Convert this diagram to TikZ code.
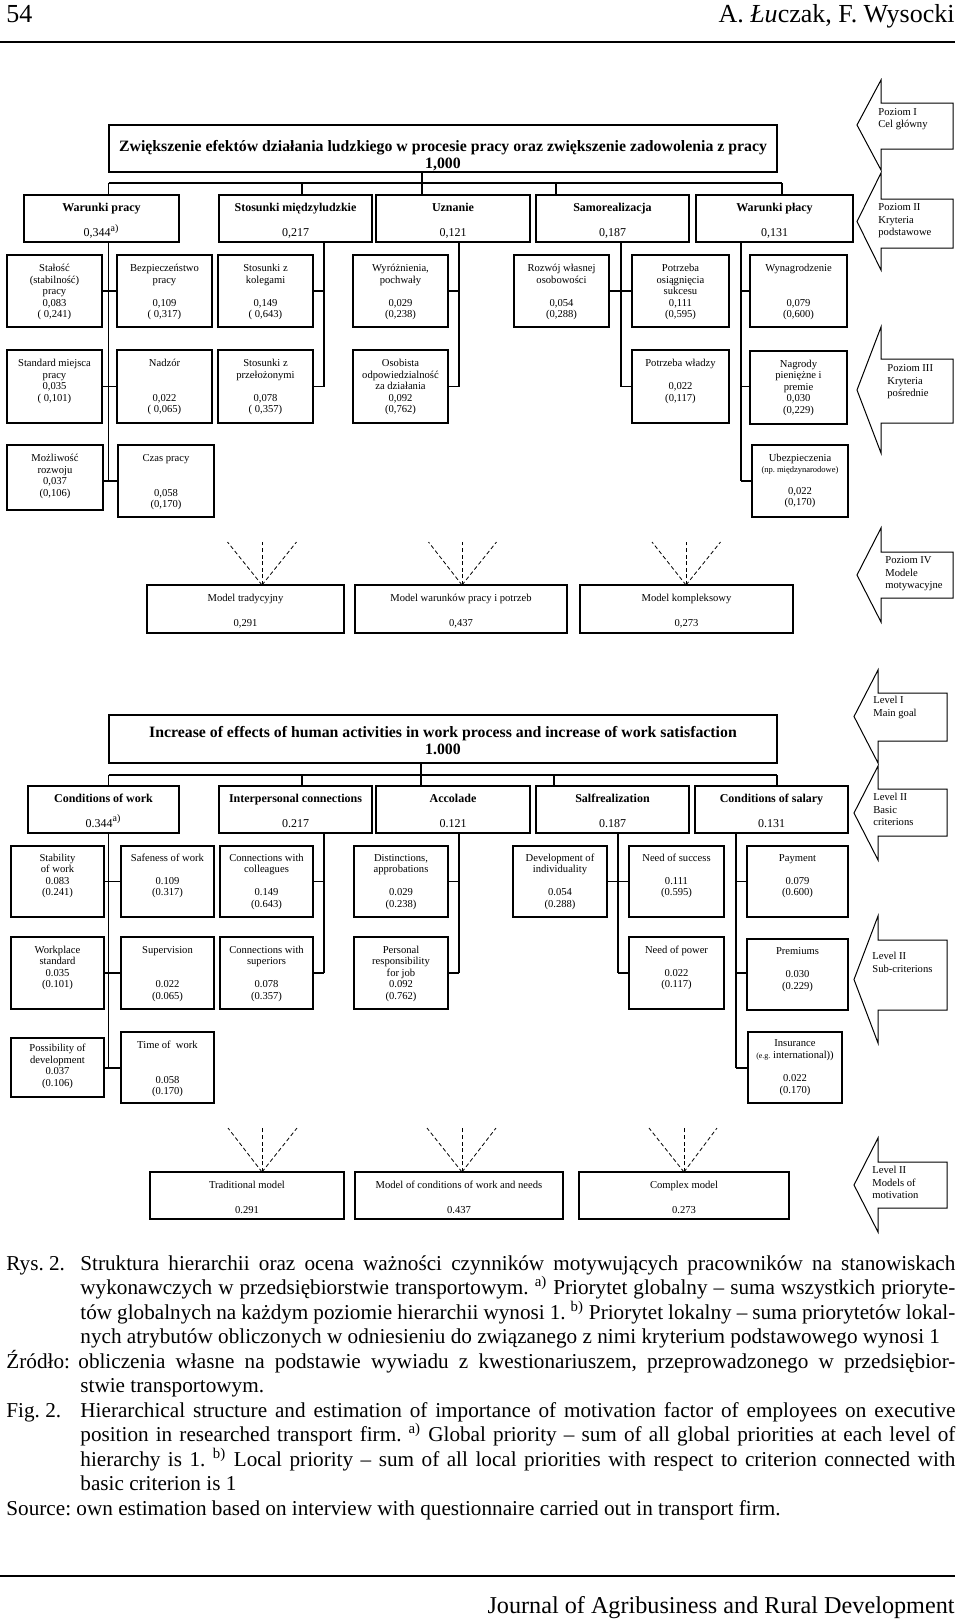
\documentclass[tikz,border=0pt]{standalone}
\usepackage{fontspec}
\setmainfont{Liberation Serif}
\frenchspacing
\newlength\ux
\setlength\ux{0.5pt}
\newcommand\fsm{\fontsize{5.3}{5.8}\selectfont}
\newcommand\fsl{\fontsize{6}{7}\selectfont}
\newcommand\fst{\fontsize{7.9}{8.5}\selectfont\bfseries}
\newcommand\fsa{\fontsize{5.3}{6.25}\selectfont}
\newcommand\fsc{\fontsize{10.6}{12.25}\selectfont}
\newcommand\fsh{\fontsize{13}{15}\selectfont}
\newcommand\supsm[1]{\smash{\textsuperscript{#1}}}
\newcommand\mybox[8]{%
\node[box,font=#2] (#1) at ({(#3+#4)/2},{(#5+#6)/2}) {\parbox[c][\dimexpr#6\ux-#5\ux\relax][t]{\dimexpr#4\ux-#3\ux\relax}{\centering\vspace*{\dimexpr#7\ux-#5\ux-\ht\strutbox\relax}\strut#8\par}};}
\newcommand\blockarrow[7]{% headx tipx right headtop headbot shafttop shaftbot
\draw[blk] (#3,#6) -- (#1,#6) -- (#1,#4) -- (#2,{(#4+#5)/2}) -- (#1,#5) -- (#1,#7) -- (#3,#7) -- cycle;}
\tikzset{
 box/.style={draw, line width=0.7pt, inner sep=0pt, outer sep=0pt},
 conn/.style={line width=0.6pt},
 fan/.style={line width=0.4pt, dash pattern=on 2pt off 1.3pt},
 blk/.style={line width=0.5pt, line join=miter},
 albl/.style={anchor=base west, inner sep=0pt, font=\fsa},
 capl/.style={anchor=base west, inner sep=0pt, font=\fsc},
}
\begin{document}
\begin{tikzpicture}[x=0.5pt,y=-0.5pt]
\fill[white] (0,0) rectangle (960,1622);
\useasboundingbox (0,0) rectangle (960,1622);

% header
\node[anchor=base west, inner sep=0pt, font=\fsh] (pgnum) at (6,23) {54};
\node[anchor=base east, inner sep=0pt, font=\fsh] (authors) at (955,23) {A. \textit{Łu}czak, F. Wysocki};
\draw[line width=1pt] (0,42) -- (955,42);

% ================= Polish diagram =================
\mybox{plmain}{\fst}{109}{777}{125}{172}{151}{\mbox{Zwiększenie efektów działania ludzkiego w procesie pracy oraz zwiększenie zadowolenia z pracy}\\1,000}

\mybox{wpr}{\fsl}{24}{179}{195}{242}{211.5}{\textbf{Warunki pracy}\\[5.5pt]0,344\supsm{a)}}
\mybox{stm}{\fsl}{219}{372}{195}{242}{211.5}{\textbf{Stosunki międzyludzkie}\\[5.5pt]0,217}
\mybox{uzn}{\fsl}{376}{530}{195}{242}{211.5}{\textbf{Uznanie}\\[5.5pt]0,121}
\mybox{sam}{\fsl}{536}{689}{195}{242}{211.5}{\textbf{Samorealizacja}\\[5.5pt]0,187}
\mybox{wpl}{\fsl}{696}{853}{195}{242}{211.5}{\textbf{Warunki płacy}\\[5.5pt]0,131}

\mybox{stal}{\fsm}{7}{102}{255}{327}{271.5}{Stałość\\(stabilność)\\pracy\\0,083\\( 0,241)}
\mybox{bezp}{\fsm}{117}{212}{255}{327}{271.5}{Bezpieczeństwo\\pracy\\[5.8pt]0,109\\( 0,317)}
\mybox{kol}{\fsm}{218}{313}{255}{327}{271.5}{Stosunki z\\kolegami\\[5.8pt]0,149\\( 0,643)}
\mybox{wyr}{\fsm}{353}{448}{255}{327}{271.5}{Wyróżnienia,\\pochwały\\[5.8pt]0,029\\(0,238)}
\mybox{roz}{\fsm}{514}{609}{255}{327}{271.5}{Rozwój własnej\\osobowości\\[5.8pt]0,054\\(0,288)}
\mybox{pot}{\fsm}{632}{729}{255}{327}{271.5}{Potrzeba\\osiągnięcia\\sukcesu\\0,111\\(0,595)}
\mybox{wyn}{\fsm}{750}{847}{255}{327}{271.5}{Wynagrodzenie\\[11.6pt]0,079\\(0,600)}

\mybox{std}{\fsm}{7}{102}{350}{423}{366.5}{Standard miejsca\\pracy\\0,035\\( 0,101)}
\mybox{nad}{\fsm}{117}{212}{350}{423}{366.5}{Nadzór\\[11.6pt]0,022\\( 0,065)}
\mybox{prz}{\fsm}{218}{313}{350}{423}{366.5}{Stosunki z\\przełożonymi\\[5.8pt]0,078\\( 0,357)}
\mybox{oso}{\fsm}{353}{448}{350}{423}{366.5}{Osobista\\odpowiedzialność\\za działania\\0,092\\(0,762)}
\mybox{wla}{\fsm}{632}{729}{350}{423}{366.5}{Potrzeba władzy\\[5.8pt]0,022\\(0,117)}
\mybox{nag}{\fsm}{750}{847}{351}{424}{367}{Nagrody\\pieniężne i\\premie\\0,030\\(0,229)}

\mybox{mozl}{\fsm}{7}{103}{445}{510}{461.5}{Możliwość\\rozwoju\\0,037\\(0,106)}
\mybox{czas}{\fsm}{118}{214}{445}{517}{461.5}{Czas pracy\\[11.6pt]0,058\\(0,170)}
\mybox{ubez}{\fsm}{752}{848}{445}{517}{461}{Ubezpieczenia\\{\fontsize{4.25}{5}\selectfont (np. międzynarodowe)}\\[4.9pt]0,022\\(0,170)}

\mybox{mtr}{\fsm}{147}{344}{585}{633}{601.5}{Model tradycyjny\\[6.7pt]0,291}
\mybox{mwp}{\fsm}{355}{567}{585}{633}{601.5}{Model warunków pracy i potrzeb\\[6.7pt]0,437}
\mybox{mko}{\fsm}{580}{793}{585}{633}{601.5}{Model kompleksowy\\[6.7pt]0,273}

% PL connectors
\coordinate (pb1) at (108.5,183); \coordinate (pb2) at (302,183);
\coordinate (pb3) at (422,183); \coordinate (pb4) at (556,183);
\coordinate (pb5) at (782,183);
\draw[conn] (pb1) -- (pb5);
\draw[conn] (pb1) -- (pb1 |- wpr.north);
\draw[conn] (pb2) -- (pb2 |- stm.north);
\draw[conn] (pb3 |- plmain.south) -- (pb3 |- uzn.north);
\draw[conn] (pb4) -- (pb4 |- sam.north);
\draw[conn] (pb5) -- (pb5 |- wpl.north);

\coordinate (prA) at (0,291); \coordinate (prB) at (0,386.5); \coordinate (prC) at (0,481);
\coordinate (ptx1) at (108.5,0); \coordinate (ptx2) at (324,0); \coordinate (ptx3) at (459,0);
\coordinate (ptx4) at (621,0); \coordinate (ptx5) at (741,0);
\draw[conn] (ptx1 |- wpr.south) -- (ptx1 |- prC);
\draw[conn] (ptx2 |- stm.south) -- (ptx2 |- prB);
\draw[conn] (ptx3 |- uzn.south) -- (ptx3 |- prB);
\draw[conn] (ptx4 |- sam.south) -- (ptx4 |- prB);
\draw[conn] (ptx5 |- wpl.south) -- (ptx5 |- prC);
\draw[conn] (stal.east |- prA) -- (bezp.west |- prA);
\draw[conn] (kol.east |- prA) -- (ptx2 |- prA);
\draw[conn] (wyr.east |- prA) -- (ptx3 |- prA);
\draw[conn] (roz.east |- prA) -- (pot.west |- prA);
\draw[conn] (ptx5 |- prA) -- (wyn.west |- prA);
\draw[conn] (std.east |- prB) -- (nad.west |- prB);
\draw[conn] (prz.east |- prB) -- (ptx2 |- prB);
\draw[conn] (oso.east |- prB) -- (ptx3 |- prB);
\draw[conn] (ptx4 |- prB) -- (wla.west |- prB);
\draw[conn] (ptx5 |- prB) -- (nag.west |- prB);
\draw[conn] (mozl.east |- prC) -- (czas.west |- prC);
\draw[conn] (ptx5 |- prC) -- (ubez.west |- prC);

% PL fans
\coordinate (pf1) at (262,542); \coordinate (pf1l) at (227.5,542); \coordinate (pf1r) at (296.5,542);
\coordinate (pf2) at (462,542); \coordinate (pf2l) at (428.5,542); \coordinate (pf2r) at (496.5,542);
\coordinate (pf3) at (686,542); \coordinate (pf3l) at (652,542); \coordinate (pf3r) at (720.5,542);
\draw[fan] (pf1 |- mtr.north) -- (pf1l); \draw[fan] (pf1 |- mtr.north) -- (pf1); \draw[fan] (pf1 |- mtr.north) -- (pf1r);
\draw[fan] (pf2 |- mwp.north) -- (pf2l); \draw[fan] (pf2 |- mwp.north) -- (pf2); \draw[fan] (pf2 |- mwp.north) -- (pf2r);
\draw[fan] (pf3 |- mko.north) -- (pf3l); \draw[fan] (pf3 |- mko.north) -- (pf3); \draw[fan] (pf3 |- mko.north) -- (pf3r);

% PL level arrows
\blockarrow{881}{857}{953}{80}{170}{103}{149}
\blockarrow{881}{857}{953}{173}{270}{199}{248}
\blockarrow{881}{857}{953}{327}{453}{359}{423}
\blockarrow{881}{857}{953}{528}{622}{552}{598}
\node[albl] (pl1) at (878,115) {\parbox[t]{75\ux}{\raggedright Poziom I\\Cel główny}};
\node[albl] (pl2) at (878,210.5) {\parbox[t]{75\ux}{\raggedright Poziom II\\Kryteria\\podstawowe}};
\node[albl] (pl3) at (887,371.5) {\parbox[t]{66\ux}{\raggedright Poziom III\\Kryteria\\pośrednie}};
\node[albl] (pl4) at (885,563.5) {\parbox[t]{68\ux}{\raggedright Poziom IV\\Modele\\motywacyjne}};

% ================= English diagram =================
\mybox{enmain}{\fst}{109}{777}{715}{763}{737}{\mbox{Increase of effects of human activities in work process and increase of work satisfaction}\\1.000}

\mybox{cow}{\fsl}{28}{179}{786}{833}{802}{\textbf{Conditions of work}\\[5.5pt]0.344\supsm{a)}}
\mybox{icn}{\fsl}{219}{372}{786}{833}{802}{\textbf{Interpersonal connections}\\[5.5pt]0.217}
\mybox{acc}{\fsl}{376}{530}{786}{833}{802}{\textbf{Accolade}\\[5.5pt]0.121}
\mybox{sal}{\fsl}{536}{689}{786}{833}{802}{\textbf{Salfrealization}\\[5.5pt]0.187}
\mybox{cos}{\fsl}{695}{848}{786}{833}{802}{\textbf{Conditions of salary}\\[5.5pt]0.131}

\mybox{stab}{\fsm}{11}{104}{846}{917}{861}{Stability\\of work\\0.083\\(0.241)}
\mybox{safe}{\fsm}{121}{214}{846}{917}{861}{Safeness of work\\[5.8pt]0.109\\(0.317)}
\mybox{cwc}{\fsm}{220}{313}{846}{917}{861}{Connections with\\colleagues\\[5.8pt]0.149\\(0.643)}
\mybox{dist}{\fsm}{354}{448}{846}{917}{861}{Distinctions,\\approbations\\[5.8pt]0.029\\(0.238)}
\mybox{dev}{\fsm}{513}{607}{846}{917}{861}{Development of\\individuality\\[5.8pt]0.054\\(0.288)}
\mybox{nsu}{\fsm}{629}{724}{846}{917}{861}{Need of success\\[5.8pt]0.111\\(0.595)}
\mybox{pay}{\fsm}{747}{848}{846}{917}{861}{Payment\\[5.8pt]0.079\\(0.600)}

\mybox{work}{\fsm}{11}{104}{937}{1009}{953}{Workplace\\standard\\0.035\\(0.101)}
\mybox{sup}{\fsm}{121}{214}{937}{1009}{953}{Supervision\\[11.6pt]0.022\\(0.065)}
\mybox{cws}{\fsm}{220}{313}{937}{1009}{953}{Connections with\\superiors\\[5.8pt]0.078\\(0.357)}
\mybox{pers}{\fsm}{354}{448}{937}{1009}{953}{Personal\\responsibility\\for job\\0.092\\(0.762)}
\mybox{npo}{\fsm}{629}{724}{937}{1009}{953}{Need of power\\[5.8pt]0.022\\(0.117)}
\mybox{prem}{\fsm}{747}{848}{939}{1010}{954.5}{Premiums\\[5.8pt]0.030\\(0.229)}

\mybox{poss}{\fsm}{11}{104}{1038}{1097}{1051.5}{Possibility of\\development\\0.037\\(0.106)}
\mybox{time}{\fsm}{121}{214}{1032}{1103}{1048.5}{Time of~ work\\[11.6pt]0.058\\(0.170)}
\mybox{ins}{\fsm}{748}{842}{1032}{1103}{1046.5}{Insurance\\{\fontsize{4}{5}\selectfont (e.g.} international))\\[5.9pt]0.022\\(0.170)}

\mybox{trm}{\fsm}{150}{344}{1172}{1219}{1188.5}{Traditional model\\[6.7pt]0.291}
\mybox{mcw}{\fsm}{355}{563}{1172}{1219}{1188.5}{Model of conditions of work and needs\\[6.7pt]0.437}
\mybox{cpx}{\fsm}{579}{789}{1172}{1219}{1188.5}{Complex model\\[6.7pt]0.273}

% EN connectors
\coordinate (eb1) at (108.5,775); \coordinate (eb2) at (302,775);
\coordinate (eb3) at (421,775); \coordinate (eb4) at (554,775);
\coordinate (eb5) at (777,775);
\draw[conn] (eb1) -- (eb5);
\draw[conn] (eb1) -- (eb1 |- cow.north);
\draw[conn] (eb2) -- (eb2 |- icn.north);
\draw[conn] (eb3 |- enmain.south) -- (eb3 |- acc.north);
\draw[conn] (eb4) -- (eb4 |- sal.north);
\draw[conn] (eb5) -- (eb5 |- cos.north);

\coordinate (erA) at (0,881.5); \coordinate (erB) at (0,973); \coordinate (erC) at (0,1068);
\coordinate (etx1) at (108.5,0); \coordinate (etx2) at (324,0); \coordinate (etx3) at (459,0);
\coordinate (etx4) at (618,0); \coordinate (etx5) at (736,0);
\draw[conn] (etx1 |- cow.south) -- (etx1 |- erC);
\draw[conn] (etx2 |- icn.south) -- (etx2 |- erB);
\draw[conn] (etx3 |- acc.south) -- (etx3 |- erB);
\draw[conn] (etx4 |- sal.south) -- (etx4 |- erB);
\draw[conn] (etx5 |- cos.south) -- (etx5 |- erC);
\draw[conn] (stab.east |- erA) -- (safe.west |- erA);
\draw[conn] (cwc.east |- erA) -- (etx2 |- erA);
\draw[conn] (dist.east |- erA) -- (etx3 |- erA);
\draw[conn] (dev.east |- erA) -- (nsu.west |- erA);
\draw[conn] (etx5 |- erA) -- (pay.west |- erA);
\draw[conn] (work.east |- erB) -- (sup.west |- erB);
\draw[conn] (cws.east |- erB) -- (etx2 |- erB);
\draw[conn] (pers.east |- erB) -- (etx3 |- erB);
\draw[conn] (etx4 |- erB) -- (npo.west |- erB);
\draw[conn] (etx5 |- erB) -- (prem.west |- erB);
\draw[conn] (poss.east |- erC) -- (time.west |- erC);
\draw[conn] (etx5 |- erC) -- (ins.west |- erC);

% EN fans
\coordinate (ef1) at (262,1128); \coordinate (ef1l) at (228,1128); \coordinate (ef1r) at (297,1128);
\coordinate (ef2) at (462,1128); \coordinate (ef2l) at (427,1128); \coordinate (ef2r) at (496,1128);
\coordinate (ef3) at (684,1128); \coordinate (ef3l) at (649,1128); \coordinate (ef3r) at (717,1128);
\draw[fan] (ef1 |- trm.north) -- (ef1l); \draw[fan] (ef1 |- trm.north) -- (ef1); \draw[fan] (ef1 |- trm.north) -- (ef1r);
\draw[fan] (ef2 |- mcw.north) -- (ef2l); \draw[fan] (ef2 |- mcw.north) -- (ef2); \draw[fan] (ef2 |- mcw.north) -- (ef2r);
\draw[fan] (ef3 |- cpx.north) -- (ef3l); \draw[fan] (ef3 |- cpx.north) -- (ef3); \draw[fan] (ef3 |- cpx.north) -- (ef3r);

% EN level arrows
\blockarrow{878}{854}{947}{670}{763}{693}{741}
\blockarrow{878}{854}{947}{766}{860}{789}{836}
\blockarrow{878}{854}{947}{916}{1043}{940}{1010}
\blockarrow{878}{854}{947}{1138}{1232}{1162}{1208}
\node[albl] (el1) at (873,703.5) {\parbox[t]{70\ux}{\raggedright Level I\\Main goal}};
\node[albl] (el2) at (873,800.5) {\parbox[t]{70\ux}{\raggedright Level II\\Basic\\criterions}};
\node[albl] (el3) at (872,959.5) {\parbox[t]{72\ux}{\raggedright Level II\\Sub-criterions}};
\node[albl] (el4) at (872,1173.5) {\parbox[t]{72\ux}{\raggedright Level II\\Models of\\motivation}};

% ================= caption =================
\node[capl] (rys) at (6,1270) {Rys. 2.};
\node[capl] (rystxt) at (80,1270) {\parbox[t]{875\ux}{%
\makebox[\linewidth][s]{Struktura hierarchii oraz ocena ważności czynników motywujących pracowników na stanowiskach}\\
\makebox[\linewidth][s]{wykonawczych w przedsiębiorstwie transportowym. \textsuperscript{a)} Priorytet globalny – suma wszystkich prioryte-}\\
\makebox[\linewidth][s]{tów globalnych na każdym poziomie hierarchii wynosi 1. \textsuperscript{b)} Priorytet lokalny – suma priorytetów lokal-}\\
nych atrybutów obliczonych w odniesieniu do związanego z nimi kryterium podstawowego wynosi 1}};
\node[capl] (zr) at (6,1368) {Źródło:};
\node[capl] (zrtxt) at (78,1368) {\parbox[t]{877\ux}{%
\makebox[\linewidth][s]{obliczenia własne na podstawie wywiadu z kwestionariuszem, przeprowadzonego w przedsiębior-}\\
\hspace*{2\ux}stwie transportowym.}};
\node[capl] (fig) at (6,1417) {Fig. 2.};
\node[capl] (figtxt) at (80,1417) {\parbox[t]{875\ux}{%
\makebox[\linewidth][s]{Hierarchical structure and estimation of importance of motivation factor of employees on executive}\\
\makebox[\linewidth][s]{position in researched transport firm. \textsuperscript{a)} Global priority – sum of all global priorities at each level of}\\
\makebox[\linewidth][s]{hierarchy is 1. \textsuperscript{b)} Local priority – sum of all local priorities with respect to criterion connected with}\\
basic criterion is 1}};
\node[capl] (src) at (6,1515) {Source: own estimation based on interview with questionnaire carried out in transport firm.};

% footer
\draw[line width=1pt] (0,1576) -- (955,1576);
\node[anchor=base east, inner sep=0pt, font=\fontsize{12.1}{14}\selectfont] (journal) at (955,1613) {Journal of Agribusiness and Rural Development};
\end{tikzpicture}
\end{document}
